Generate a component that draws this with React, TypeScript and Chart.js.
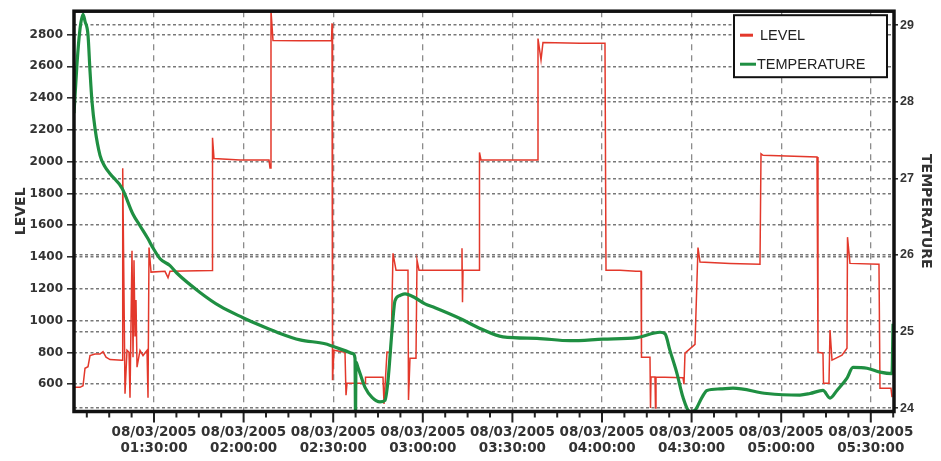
import { useEffect, useRef } from 'react';
import { Chart, registerables } from 'chart.js';

Chart.register(...registerables);

// ---- data (x = minutes after 00:00 on 08/03/2005) ----
const DATE_LABEL = '08/03/2005';
const majorTickMinutes = [90, 120, 150, 180, 210, 240, 270, 300, 330];
const majorTickTimes = ['01:30:00', '02:00:00', '02:30:00', '03:00:00', '03:30:00', '04:00:00', '04:30:00', '05:00:00', '05:30:00'];

const levelMinutes = [
  62.88, 65.22, 66.23, 66.9, 67.9, 68.57, 70.25, 71.92, 72.92, 73.93, 75.27,
  79.29, 79.52, 80.29, 80.96, 81.63, 81.96, 82.63, 82.97, 83.3, 83.64, 83.97, 84.31,
  85.31, 86.32, 87.66, 87.99, 88.33, 89.0, 93.68, 94.69, 95.36,
  109.42, 109.59, 110.09, 118.79, 128.5, 128.84, 129.17, 129.84, 138.88,
  149.43, 149.6, 149.77, 150.27, 153.95, 154.29, 154.62, 160.65, 160.81,
  166.67, 167.01, 168.01, 169.35, 170.02, 171.03, 175.04, 175.21, 175.71,
  177.72, 178.06, 178.73, 192.79, 193.12, 193.29, 193.46, 198.82, 198.98, 199.49,
  218.24, 218.57, 219.58, 220.24, 232.63, 241.0, 241.34, 246.03, 251.38,
  253.06, 253.22, 256.07, 256.24, 256.41, 257.74, 257.91, 258.08, 267.12, 267.45,
  267.79, 271.14, 272.14, 272.81, 282.86, 292.9, 293.24, 293.91, 311.99,
  312.32, 313.99, 314.16, 316.0, 316.34, 317.01, 320.36, 322.03, 322.2, 323.03,
  332.74, 333.08, 336.76, 337.1,
];
const levelValues = [
  580, 580, 590, 700, 710, 780, 790, 790, 805, 770, 755,
  751, 1958, 540, 813, 800, 515, 1440, 770, 1380, 900, 1130, 707,
  813, 780, 813, 515, 1460, 1305, 1310, 1270, 1310,
  1315, 2150, 2020, 2010, 2010, 1960, 2950, 2762, 2760,
  2760, 2870, 625, 814, 800, 531, 606, 606, 644,
  644, 475, 802, 800, 1423, 1317, 1317, 500, 763,
  763, 1380, 1317, 1317, 1455, 1115, 1317, 1317, 2058, 2010,
  2010, 2775, 2640, 2750, 2745, 2745, 1317, 1317, 1310,
  1310, 770, 770, 450, 645, 645, 450, 645, 640, 600,
  795, 850, 1460, 1368, 1360, 1355, 2050, 2040, 2030,
  801, 795, 606, 606, 940, 751, 782, 826, 1525, 1360,
  1355, 575, 575, 518,
];

const temperatureMinutes = [
  63.21, 64.22, 65.22, 66.23, 66.9, 67.9, 68.57, 69.24, 70.25, 71.92, 73.59, 75.27,
  79.29, 82.97, 85.31, 87.99, 89.67, 92.01, 95.36, 97.7, 105.4, 112.1, 119.8,
  125.49, 131.18, 138.88, 147.25, 153.95, 156.63, 157.3, 157.47, 157.63, 158.3,
  160.65, 162.99, 165.67, 167.34, 168.35, 169.69, 170.69, 172.37, 174.04, 177.39,
  180.74, 184.08, 192.45, 199.15, 206.85, 218.24, 229.29, 240.33, 251.72, 259.42,
  261.09, 262.77, 265.11, 267.12, 269.46, 271.14, 273.48, 275.16, 279.51, 283.86,
  295.24, 306.29, 309.64, 313.99, 316.34, 318.68, 322.03, 324.04, 328.73, 333.08,
  337.1, 337.45,
];
const temperatureValues = [
  27.85, 28.5, 28.95, 29.14, 29.05, 28.87, 28.4, 28.0, 27.65, 27.3, 27.15, 27.06,
  26.87, 26.53, 26.38, 26.21, 26.09, 25.95, 25.86, 25.76, 25.51, 25.33, 25.18,
  25.08, 24.99, 24.89, 24.84, 24.75, 24.71, 24.65, 23.9, 24.6, 24.53,
  24.27, 24.14, 24.08, 24.1, 24.36, 25.01, 25.4, 25.47, 25.49, 25.44,
  25.36, 25.31, 25.17, 25.04, 24.93, 24.91, 24.88, 24.9, 24.92, 24.99,
  24.97, 24.75, 24.45, 24.14, 23.95, 23.97, 24.14, 24.23, 24.25, 24.26,
  24.19, 24.17, 24.19, 24.23, 24.13, 24.23, 24.39, 24.53, 24.52, 24.47,
  24.45, 25.1,
];

const LEVEL_COLOR = '#e3382b';
const TEMP_COLOR = '#1f8f42';
const TEXT_COLOR = '#333333';

const majorIndex = (v: number) => majorTickMinutes.findIndex((m) => Math.abs(m - v) < 1e-6);

const framePlugin = {
  id: 'frame',
  afterDraw(chart: any) {
    const { ctx, chartArea: a } = chart;
    const xs = chart.scales.x;
    ctx.save();
    // x tick marks
    ctx.strokeStyle = '#222';
    ctx.lineWidth = 2;
    xs.ticks.forEach((t: any) => {
      const px = xs.getPixelForValue(t.value);
      const len = majorIndex(t.value) >= 0 ? 11 : 6;
      ctx.beginPath();
      ctx.moveTo(px, a.bottom);
      ctx.lineTo(px, a.bottom + len);
      ctx.stroke();
    });
    // frame
    ctx.lineWidth = 3.5;
    ctx.strokeStyle = '#111';
    ctx.strokeRect(a.left, a.top, a.right - a.left, a.bottom - a.top);

    // legend box
    const bx = a.right - 160;
    const by = a.top + 4;
    const bw = 153;
    const bh = 62;
    ctx.fillStyle = '#ffffff';
    ctx.fillRect(bx, by, bw, bh);
    ctx.lineWidth = 2;
    ctx.strokeStyle = '#111';
    ctx.strokeRect(bx, by, bw, bh);
    const items = [
      { label: 'LEVEL', color: LEVEL_COLOR, y: by + 20, x0: bx + 6, x1: bx + 19, tx: bx + 26 },
      { label: 'TEMPERATURE', color: TEMP_COLOR, y: by + 49, x0: bx + 6, x1: bx + 22, tx: bx + 23 },
    ];
    ctx.font = '14.5px "Liberation Sans", Arial, sans-serif';
    ctx.textBaseline = 'middle';
    ctx.textAlign = 'left';
    items.forEach((it) => {
      ctx.strokeStyle = it.color;
      ctx.lineWidth = 3;
      ctx.beginPath();
      ctx.moveTo(it.x0, it.y);
      ctx.lineTo(it.x1, it.y);
      ctx.stroke();
      ctx.fillStyle = '#222';
      ctx.fillText(it.label, it.tx, it.y + 1);
    });
    ctx.restore();
  },
};

export default function App() {
  const ref = useRef<HTMLCanvasElement | null>(null);

  useEffect(() => {
    if (!ref.current) return;
    const levelData = levelMinutes.map((m, i) => ({ x: m, y: levelValues[i] }));
    const tempData = temperatureMinutes.map((m, i) => ({ x: m, y: temperatureValues[i] }));

    const chart = new Chart(ref.current, {
      type: 'line',
      data: {
        datasets: [
          {
            label: 'LEVEL',
            data: levelData,
            yAxisID: 'y',
            borderColor: LEVEL_COLOR,
            borderWidth: 1.5,
            pointRadius: 0,
            tension: 0,
            order: 2,
          },
          {
            label: 'TEMPERATURE',
            data: tempData,
            yAxisID: 'y1',
            borderColor: TEMP_COLOR,
            borderWidth: 3.2,
            pointRadius: 0,
            cubicInterpolationMode: 'monotone',
            order: 1,
          },
        ],
      },
      options: {
        animation: false,
        responsive: true,
        maintainAspectRatio: false,
        layout: { padding: { top: 9, left: 0, right: 0, bottom: 0 } },
        plugins: { legend: { display: false }, tooltip: { enabled: false } },
        scales: {
          x: {
            type: 'linear',
            min: 63.21,
            max: 337.77,
            afterFit: (s: any) => { s.height = 49.5; },
            ticks: {
              stepSize: 7.5,
              includeBounds: false,
              autoSkip: false,
              maxRotation: 0,
              minRotation: 0,
              padding: 13,
              color: TEXT_COLOR,
              font: { family: '"DejaVu Sans", sans-serif', size: 13.5, weight: 'bold', lineHeight: 1.2 },
              callback: (v: any) => {
                const i = majorIndex(Number(v));
                return i >= 0 ? [DATE_LABEL, majorTickTimes[i]] : '';
              },
            },
            grid: {
              drawTicks: false,
              lineWidth: 1.3,
              color: (c: any) => (c.tick && majorIndex(c.tick.value) >= 0 ? 'rgba(120,120,120,0.85)' : 'rgba(0,0,0,0)'),
            },
            border: { display: false, dash: [6, 5] },
          },
          y: {
            type: 'linear',
            position: 'left',
            min: 428,
            max: 2946.7,
            afterFit: (s: any) => { s.width = 74; },
            ticks: {
              stepSize: 200,
              includeBounds: false,
              padding: 4,
              color: TEXT_COLOR,
              font: { family: '"DejaVu Sans", sans-serif', size: 12, weight: 'bold' },
              callback: (v: any) => String(v),
            },
            grid: {
              color: 'rgba(105,105,105,0.9)',
              lineWidth: 1.6,
              tickLength: 7,
              tickColor: '#222',
              tickWidth: 1.5,
            },
            border: { display: false, dash: [3, 2.5] },
            title: {
              display: true,
              text: 'LEVEL',
              color: TEXT_COLOR,
              padding: { top: 13, bottom: 0 },
              font: { family: '"DejaVu Sans", sans-serif', size: 14, weight: 'bold' },
            },
          },
          y1: {
            type: 'linear',
            position: 'right',
            min: 23.955,
            max: 29.182,
            afterFit: (s: any) => { s.width = 47; },
            ticks: {
              stepSize: 1,
              includeBounds: false,
              padding: 2,
              color: TEXT_COLOR,
              font: { family: '"Liberation Sans", Arial, sans-serif', size: 12.5, weight: 'bold' },
              callback: (v: any) => String(v),
            },
            grid: {
              color: 'rgba(105,105,105,0.9)',
              lineWidth: 1.6,
              tickLength: 4,
              tickColor: '#222',
              tickWidth: 1.5,
            },
            border: { display: false, dash: [3, 2.5] },
            title: {
              display: true,
              text: 'TEMPERATURE',
              color: TEXT_COLOR,
              padding: { top: 7, bottom: 0 },
              font: { family: '"DejaVu Sans", sans-serif', size: 14, weight: 'bold' },
            },
          },
        },
      },
      plugins: [framePlugin],
    } as any);

    return () => chart.destroy();
  }, []);

  return (
    <div style={{ position: 'fixed', left: 0, top: 0, width: 941, height: 461, background: '#fff' }}>
      <canvas ref={ref} />
    </div>
  );
}
